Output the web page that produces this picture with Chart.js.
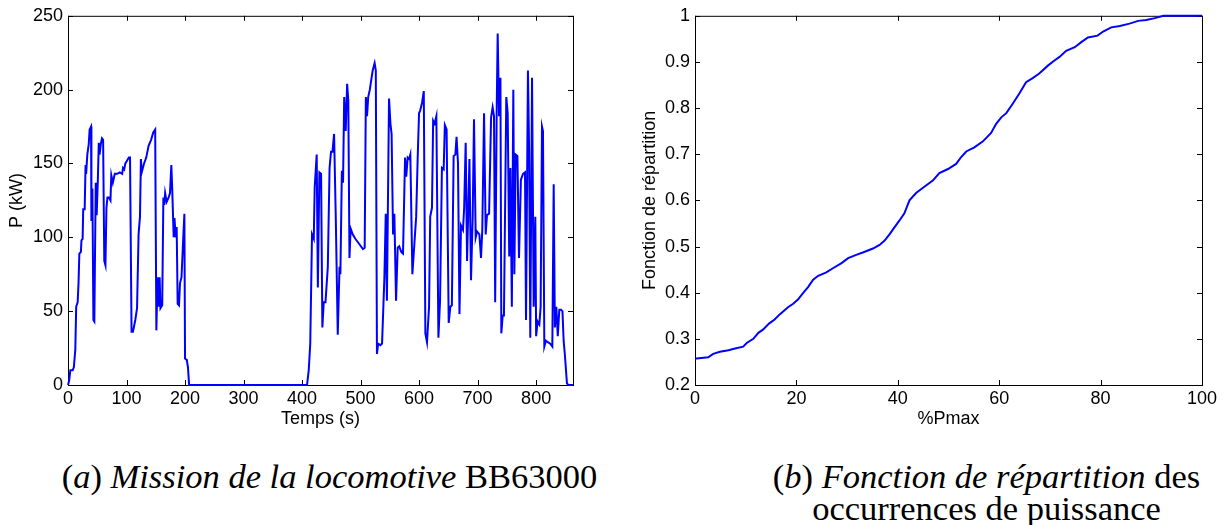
<!DOCTYPE html>
<html>
<head>
<meta charset="utf-8">
<script src="https://cdn.jsdelivr.net/npm/chart.js@4.4.1/dist/chart.umd.min.js"></script>
<style>
  html, body { margin: 0; padding: 0; background: #fff; }
  body { width: 1225px; height: 525px; position: relative; overflow: hidden; }
  canvas { position: absolute; top: 0; }
  #c1 { left: 0; }
  #c2 { left: 600px; }
  .cap { position: absolute; font-family: "Liberation Serif", "Times New Roman", serif; font-size: 34.5px; color: #000; text-align: center; white-space: nowrap; line-height: 32px; }
  .cap i { font-style: italic; }
</style>
</head>
<body>
<canvas id="c1" width="600" height="430"></canvas>
<canvas id="c2" width="625" height="430"></canvas>
<div class="cap" id="capA" style="left:0px; width:659px; top:460px;">(<i>a</i>) <i>Mission de la locomotive</i> BB63000</div>
<div class="cap" id="capB" style="left:750px; width:473px; top:460px;">(<i>b</i>) <i>Fonction de répartition</i> des<br>occurrences de puissance</div>
<script>
// ---------- Data: (a) Mission de la locomotive BB63000 ----------
const missionTimeA = [0, 2, 4, 8, 10, 12.5, 14, 16.5, 18, 19.4,
  22, 23, 25, 26, 28.5, 30, 31, 33, 35.4, 37,
  39.4, 40, 41.7, 43.4, 45, 47.4, 49, 51, 52.6, 54,
  56, 58, 60, 62, 64, 65.7, 67.4, 70, 72.6, 74,
  76.6, 80, 84, 88.6, 92.6, 94, 96, 98, 101, 104,
  106, 108.6, 111, 115, 118, 120.6, 123, 124.6, 126, 130,
  133.7, 137.7, 142, 145.7, 149, 151, 153, 155, 156.6, 158,
  161, 163, 164.6, 166, 168.6, 172, 174.3, 176.6, 178, 180.6,
  182, 184, 185.7, 187.4, 189.7, 191.4, 194, 197, 198.9, 200,
  203, 205, 207];
const missionPowerA = [0, 3, 10, 10, 12, 24, 53, 56, 69, 89,
  90, 98, 99, 119, 119, 149, 143, 156, 163, 173,
  175, 111, 133, 44, 43, 137, 115, 139, 164, 156,
  163, 167, 166, 84, 81, 120, 127, 127, 125, 142,
  137, 143, 143, 144, 143, 147, 146, 150, 152, 154,
  154, 36, 36, 44, 52, 102, 114, 153, 144, 150,
  154, 162, 166, 171, 173, 37, 73, 53, 73, 52,
  54, 127, 122, 130, 124, 127, 130, 149, 134, 100,
  113, 100, 107, 55, 54, 69, 73, 100, 116, 18,
  17, 12, 0];
const missionTimeB = [408.5, 411.4, 414, 417, 420, 421.6, 425, 427, 429.6, 432.5,
  434.7, 437, 440, 444, 447, 449.5, 452, 454.7, 457.5, 461,
  464, 465.5, 468, 470, 472, 474.6, 477, 479, 481, 483,
  486.5, 491, 496.8, 504, 507, 509, 511, 513, 515.8, 518,
  520.7, 524, 526, 528, 530, 533.8, 536.7, 540.7, 543, 545,
  548.6, 551, 553, 555.5, 557.7, 560.6, 563.4, 566, 569.7, 572.5,
  576, 578, 580.5, 583, 585, 588.5, 592, 595, 597.6, 599.9,
  602, 605, 608, 610.7, 613.5, 617, 619, 622, 624, 626.5,
  629.5, 633, 635.8, 639, 642, 644, 647, 650.6, 653.4, 656,
  659, 662, 664, 666.5, 669, 671.6, 675, 677, 679.6, 682,
  686, 688.7, 691.6, 693.8, 696.7, 699, 703, 705.8, 708, 711,
  713.8, 716, 719.6, 723, 725.7, 728, 730, 732.6, 734.3, 736.6,
  739, 740.5, 742.8, 745, 749, 751.4, 754, 756, 758.5, 761,
  762.8, 765, 768, 770.7, 774, 777.6, 781, 782.7, 786, 788,
  790, 793, 795.8, 798.6, 800, 802.6, 805.5, 807.7, 810, 811.7,
  814, 816.8, 820, 824, 827.7, 830, 832, 834.5, 837, 839.6,
  842.5, 845, 847, 849, 852.7, 855.6, 863];
const missionPowerB = [0, 10, 28, 102, 99, 134, 156, 66, 144, 143,
  39, 56, 56, 80, 147, 158, 158, 170, 116, 34,
  80, 75, 145, 137, 195, 172, 204, 193, 86, 106,
  102, 99, 96, 92, 93, 195, 182, 195, 200, 206,
  213, 218, 213, 21, 28, 27, 28, 73, 116, 57,
  194, 177, 170, 102, 116, 57, 93, 94, 90, 89,
  154, 141, 154, 153, 156, 75, 96, 114, 154, 184,
  186, 191, 199, 35, 29, 53, 114, 120, 179, 177,
  182, 32, 57, 147, 146, 176, 173, 42, 53, 54,
  155, 156, 168, 150, 48, 108, 105, 120, 164, 84,
  153, 71, 114, 180, 100, 104, 102, 86, 105, 184,
  102, 115, 116, 181, 188, 182, 56, 186, 238, 182,
  208, 35, 47, 47, 195, 184, 87, 147, 53, 200,
  75, 156, 155, 86, 139, 143, 144, 44, 213, 159,
  32, 208, 53, 114, 33, 43, 41, 53, 175, 172,
  26, 30, 29, 28, 26, 136, 39, 53, 33, 51,
  51, 50, 30, 21, 1, 0, 0];

// ---------- Data: (b) Fonction de répartition ----------
const pctPmax = [0, 0.3, 2.6, 3.6, 4.9, 6.6, 7.9, 9.5, 10.2, 11.5,
  12.5, 13.4, 14.6, 15.7, 16.7, 18.4, 19.3, 20.3, 21.3, 22.3,
  23.3, 24.3, 25.9, 27.2, 28.9, 30.2, 31.8, 33.1, 35.1, 36.4,
  37.4, 38.4, 39.3, 40.3, 41.3, 42.3, 43.6, 45.3, 46.9, 48.2,
  49.9, 51.5, 52.5, 53.5, 55.1, 56.8, 58.4, 59.4, 60.4, 61.4,
  62.7, 64, 65.3, 66.6, 67.9, 69.6, 70.9, 71.9, 73.2, 74.9,
  76.2, 77.5, 79.4, 80.5, 82.1, 83.8, 85.7, 87.4, 89, 90.7,
  92.4, 100];
const cdfValues = [0.257, 0.2576, 0.260, 0.2676, 0.272, 0.2755, 0.279, 0.283, 0.291, 0.300,
  0.313, 0.320, 0.333, 0.342, 0.353, 0.369, 0.3755, 0.385, 0.399, 0.412,
  0.428, 0.4367, 0.444, 0.453, 0.464, 0.4748, 0.482, 0.487, 0.4957, 0.5036,
  0.513, 0.527, 0.541, 0.556, 0.572, 0.600, 0.616, 0.630, 0.643, 0.659,
  0.668, 0.679, 0.694, 0.706, 0.715, 0.728, 0.746, 0.766, 0.780, 0.789,
  0.810, 0.832, 0.856, 0.865, 0.875, 0.892, 0.903, 0.911, 0.924, 0.932,
  0.943, 0.953, 0.957, 0.966, 0.975, 0.978, 0.983, 0.989, 0.991, 0.995,
  1.0, 1.0];

// Axis settings
const missionXTicks = { min: 0, max: 863, step: 100 };
const missionYTicks = { min: 0, max: 250, step: 50 };
const cdfXTicks = { min: 0, max: 100, step: 20 };
const cdfYTicks = { min: 0.2, max: 1, step: 0.1 };

// ---------- Build ----------
const missionTime = missionTimeA.concat(missionTimeB);
const missionPower = missionPowerA.concat(missionPowerB);
const missionPts = missionTime.map((t, i) => ({ x: t, y: missionPower[i] }));
const cdfPts = pctPmax.map((p, i) => ({ x: p, y: cdfValues[i] }));

const FONT = { family: "'Liberation Sans', Arial, Helvetica, sans-serif", size: 18 };
const BLUE = '#0000ff';

const boxTicks = {
  id: 'boxTicks',
  beforeDatasetsDraw(chart) {
    const { ctx, chartArea: a, scales: { x, y } } = chart;
    const L = 5;
    ctx.save();
    ctx.strokeStyle = '#000';
    ctx.lineWidth = 1;
    ctx.strokeRect(a.left + 0.5, a.top + 0.5, a.right - a.left, a.bottom - a.top);
    ctx.beginPath();
    x.ticks.forEach(t => {
      const px = Math.round(x.getPixelForValue(t.value)) + 0.5;
      ctx.moveTo(px, a.bottom); ctx.lineTo(px, a.bottom - L);
      ctx.moveTo(px, a.top); ctx.lineTo(px, a.top + L);
    });
    y.ticks.forEach(t => {
      const py = Math.round(y.getPixelForValue(t.value)) + 0.5;
      ctx.moveTo(a.left, py); ctx.lineTo(a.left + L, py);
      ctx.moveTo(a.right, py); ctx.lineTo(a.right - L, py);
    });
    ctx.stroke();
    ctx.restore();
  }
};

function makeChart(canvasId, pts, xs, ys, xTitle, yTitle, opts) {
  return new Chart(document.getElementById(canvasId), {
    type: 'line',
    data: { datasets: [{ data: pts, borderColor: BLUE, borderWidth: 2, pointRadius: 0, tension: 0, fill: false, clip: false }] },
    options: {
      responsive: false,
      animation: false,
      events: [],
      layout: { padding: { left: 0, top: 15, right: opts.padRight, bottom: 0 } },
      plugins: { legend: { display: false }, tooltip: { enabled: false } },
      scales: {
        x: {
          type: 'linear', min: xs.min, max: xs.max,
          grid: { display: false, drawTicks: false },
          border: { display: false },
          ticks: { stepSize: xs.step, includeBounds: false, maxRotation: 0, autoSkip: false, color: '#000', font: FONT, padding: 3,
                   callback: v => String(Math.round(v * 1000) / 1000) },
          title: { display: true, text: xTitle, color: '#000', font: FONT, padding: { top: 0, bottom: 0 } },
          afterFit(s) { s.height = 45; }
        },
        y: {
          type: 'linear', min: ys.min, max: ys.max,
          grid: { display: false, drawTicks: false },
          border: { display: false },
          ticks: { stepSize: ys.step, includeBounds: false, autoSkip: false, color: '#000', font: FONT, padding: 5,
                   callback: v => String(Math.round(v * 1000) / 1000) },
          title: { display: true, text: yTitle, color: '#000', font: FONT, padding: { top: opts.yTitlePad, bottom: 0 } },
          afterFit(s) { s.width = opts.yWidth; }
        }
      }
    },
    plugins: [boxTicks]
  });
}

makeChart('c1', missionPts, missionXTicks, missionYTicks, 'Temps (s)', 'P (kW)', { padRight: 27, yWidth: 68, yTitlePad: 6 });
makeChart('c2', cdfPts, cdfXTicks, cdfYTicks, '%Pmax', 'Fonction de répartition', { padRight: 23, yWidth: 95, yTitlePad: 39 });
</script>
</body>
</html>
